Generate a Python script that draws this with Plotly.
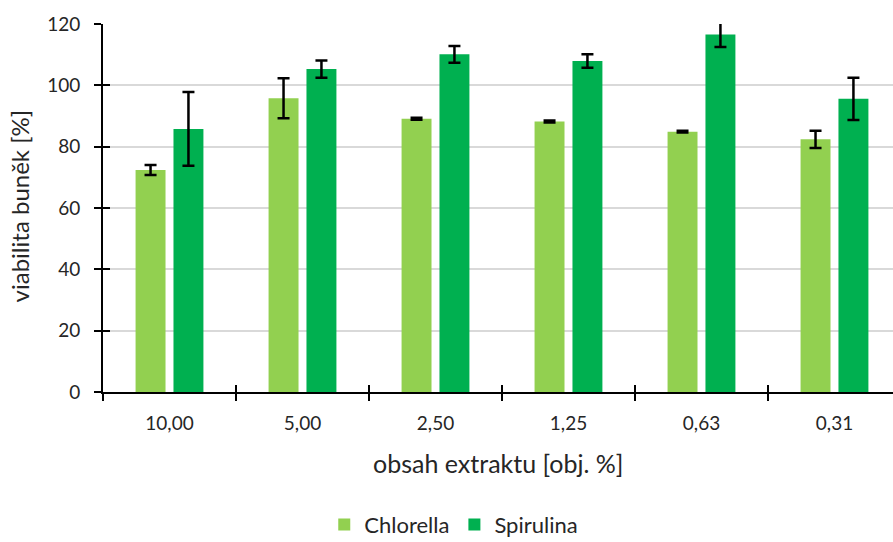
import plotly.graph_objects as go

categories = ["10,00", "5,00", "2,50", "1,25", "0,63", "0,31"]
chlorella = [72.4, 95.8, 89.1, 88.2, 84.9, 82.4]
chlorella_err = [1.6, 6.5, 0.3, 0.3, 0.3, 2.8]
spirulina = [85.8, 105.3, 110.1, 107.9, 116.6, 95.6]
spirulina_err = [12.0, 2.8, 2.7, 2.2, 4.1, 6.9]
y_ticks = [0, 20, 40, 60, 80, 100, 120]

FONT = "Lato"
TXT = "#262626"
err_style = dict(type="data", visible=True, color="black", thickness=2.5, width=6)

fig = go.Figure()
fig.add_trace(go.Bar(name="Chlorella", x=categories, y=chlorella,
                     marker=dict(color="#92D050", line=dict(width=0)),
                     error_y=dict(array=chlorella_err, **err_style)))
fig.add_trace(go.Bar(name="Spirulina", x=categories, y=spirulina,
                     marker=dict(color="#00B050", line=dict(width=0)),
                     error_y=dict(array=spirulina_err, **err_style)))
# invisible trace for overlay axes (crossing ticks)
fig.add_trace(go.Scatter(x=categories, y=chlorella, xaxis="x2", yaxis="y2",
                         mode="markers", marker=dict(opacity=0), showlegend=False,
                         hoverinfo="skip"))

fig.update_layout(
    width=893, height=542,
    margin=dict(l=103, r=0, t=24, b=150, autoexpand=False),
    paper_bgcolor="white", plot_bgcolor="white",
    barmode="group", bargap=0.43, bargroupgap=0.21,
    font=dict(family=FONT, size=19, color=TXT),
    xaxis=dict(type="category", range=[-0.5, 5.44], tickson="boundaries",
               ticks="outside", ticklen=7, tickwidth=2, tickcolor="black",
               showline=True, linecolor="black", linewidth=2,
               showgrid=False, ticklabelstandoff=13, automargin=False,
               tickfont=dict(family=FONT, size=19, color=TXT)),
    yaxis=dict(range=[0, 120], tickvals=y_ticks, ticks="outside", ticklen=7,
               tickwidth=2, tickcolor="black", showline=True, linecolor="black",
               linewidth=2, showgrid=True, gridcolor="#d9d9d9", gridwidth=1.5,
               zeroline=False, ticklabelstandoff=10, automargin=False,
               tickfont=dict(family=FONT, size=19, color=TXT)),
    xaxis2=dict(type="category", range=[-0.5, 5.44], tickson="boundaries",
                overlaying="x", ticks="inside", ticklen=7, tickwidth=2,
                tickcolor="black", showticklabels=False, showgrid=False,
                showline=False, automargin=False),
    yaxis2=dict(range=[0, 120], tickvals=y_ticks, overlaying="y",
                ticks="inside", ticklen=7, tickwidth=2, tickcolor="black",
                showticklabels=False, showgrid=False, showline=False,
                zeroline=False, automargin=False),
    legend=dict(orientation="h", x=0.444, xanchor="center",
                yref="container", y=0.032, yanchor="middle",
                font=dict(family=FONT, size=22, color=TXT),
                itemwidth=30, traceorder="normal"),
    showlegend=True,
    annotations=[
        dict(text="obsah extraktu [obj. %]", xref="paper", yref="paper",
             x=0.5, y=-0.193, xanchor="center", yanchor="middle",
             showarrow=False, font=dict(family=FONT, size=25, color=TXT)),
        dict(text="viabilita buněk [%]", xref="paper", yref="paper",
             x=-0.106, y=0.505, xanchor="center", yanchor="middle", textangle=-90,
             showarrow=False, font=dict(family=FONT, size=24, color=TXT)),
    ],
)

fig.write_html("out.html")
